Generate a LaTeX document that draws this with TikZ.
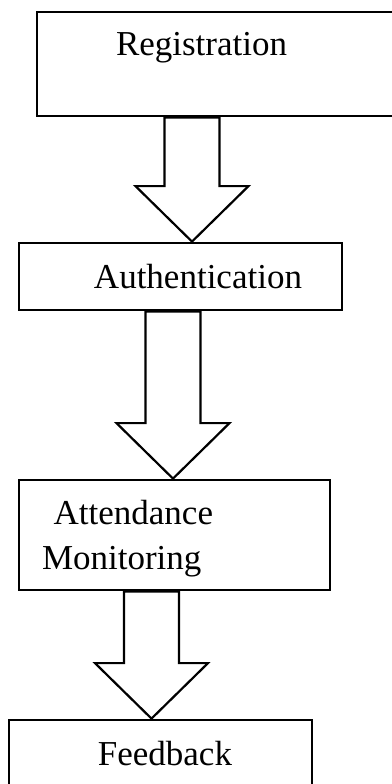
\documentclass[tikz,border=0pt]{standalone}
\usepackage{fontspec}
\setmainfont{Liberation Serif}
\usetikzlibrary{calc}

\begin{document}
\begin{tikzpicture}[x=0.5pt,y=-0.5pt,
    stage/.style ={draw, line width=1.4pt, inner sep=0pt, text height=12pt,
      font=\fontsize{17.5}{22.5}\selectfont},
    blockarrow/.style ={draw, line width=1.1pt, to path={
      let \p1=(\tikztostart), \p2=(\tikztotarget) in
      (\x1-13.75pt,\y1) -- (\x1-13.75pt,\y2+27.75pt) -- (\x1-28.25pt,\y2+27.75pt)
      -- (\x2,\y2) -- (\x1+28.25pt,\y2+27.75pt) -- (\x1+13.75pt,\y2+27.75pt)
      -- (\x1+13.75pt,\y1) -- cycle}}]
   \useasboundingbox (0,0) rectangle (392,784);

   \node[stage, minimum width=191.5pt, minimum height=52pt, text width=112.5pt,
     align=left, text depth=21pt] (reg) at (228.5,64) {Registration};
   \node[stage, minimum width=161.5pt, minimum height=33.5pt, text width=121.5pt,
     align=right, text depth=0pt] (auth) at (180.5,276.5) {Authentication};
   \node[stage, minimum width=155.5pt, minimum height=55pt, text width=132.5pt,
     align=left, text depth=23pt] (att) at (174.5,535) {~Attendance\\Monitoring};
   \node[stage, minimum width=151.5pt, minimum height=40pt, text width=71.5pt,
     align=right, text depth=7pt] (feed) at (160.5,760) {Feedback};

   \coordinate (a1) at (192,0);
   \coordinate (a2) at (173,0);
   \coordinate (a3) at (151.5,0);

   \draw[blockarrow] (a1 |- reg.south) to (a1 |- auth.north);
   \draw[blockarrow] (a2 |- auth.south) to (a2 |- att.north);
   \draw[blockarrow] (a3 |- att.south) to (a3 |- feed.north);
\end{tikzpicture}
\end{document}
